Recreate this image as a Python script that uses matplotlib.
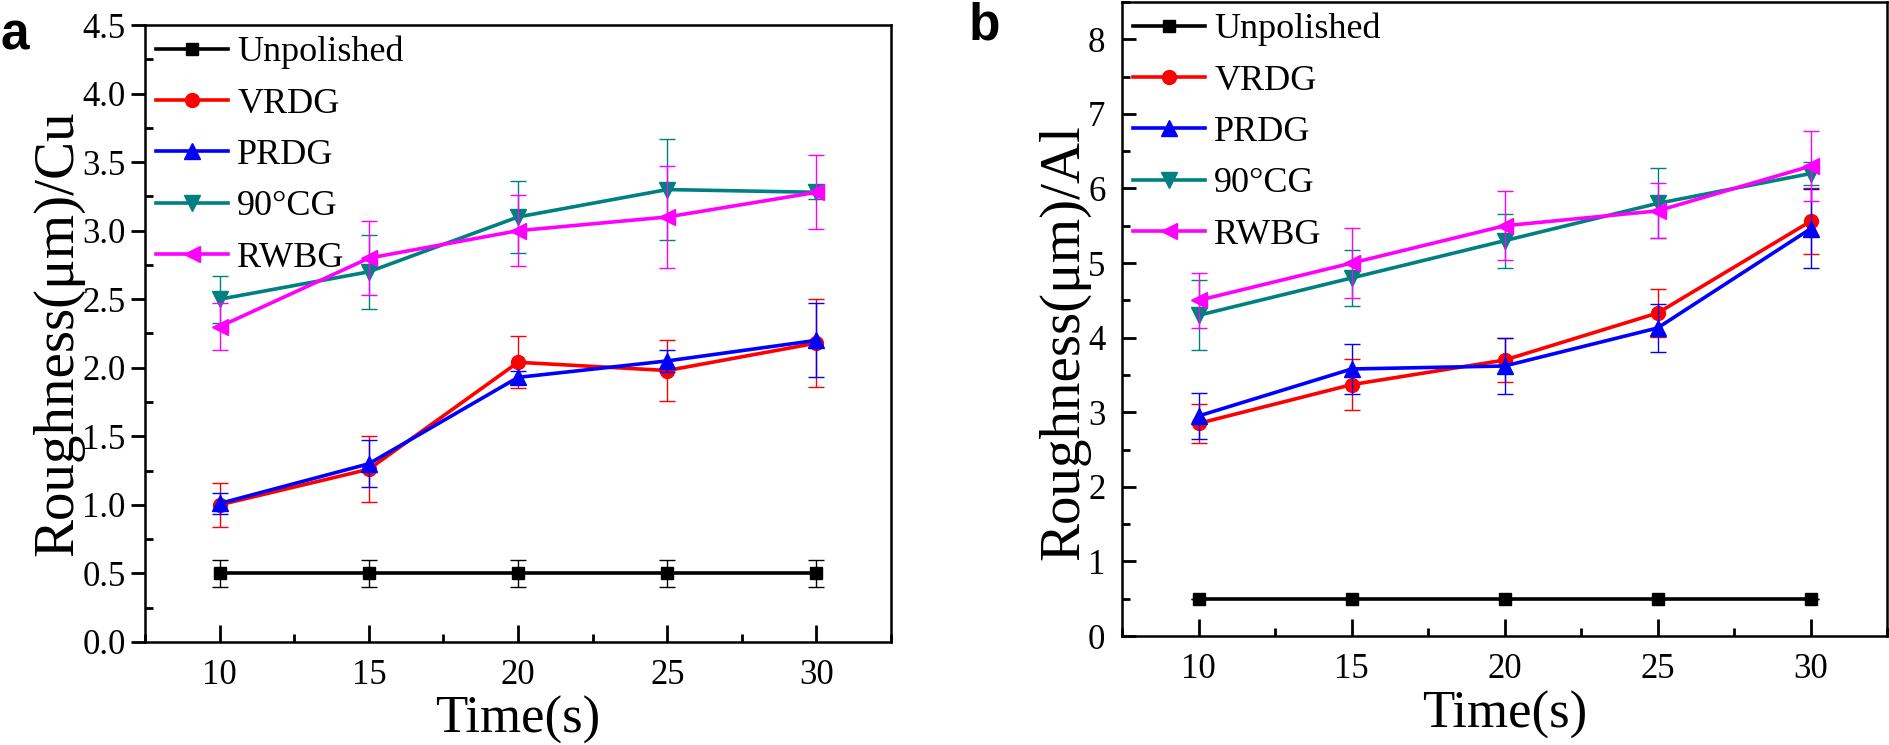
"""
Surface roughness vs. polishing time for Cu and Al workpieces (panels a, b).
"""

import matplotlib
matplotlib.use("Agg")
import matplotlib.pyplot as plt
from matplotlib.ticker import MultipleLocator

plt.rcParams["font.family"] = "serif"
plt.rcParams["font.serif"] = ["Liberation Serif", "DejaVu Serif"]

# --- data ---------------------------------------------------------------------

TIMES = [10, 15, 20, 25, 30]
LABELS = ["Unpolished", "VRDG", "PRDG", "90°CG", "RWBG"]

# Cu (panel a)
CU_UNPOL = [0.5, 0.5, 0.5, 0.5, 0.5]
CU_VRDG = [1.00, 1.26, 2.04, 1.98, 2.18]
CU_PRDG = [1.01, 1.30, 1.93, 2.05, 2.20]
CU_CG90 = [2.50, 2.70, 3.10, 3.30, 3.28]
CU_RWBG = [2.30, 2.80, 3.00, 3.10, 3.28]

CU_UNPOL_ERR = [0.10, 0.10, 0.10, 0.10, 0.10]
CU_VRDG_ERR = [0.16, 0.24, 0.19, 0.22, 0.32]
CU_PRDG_ERR = [0.075, 0.17, 0.05, 0.08, 0.27]
CU_CG90_ERR = [0.17, 0.27, 0.26, 0.37, 0.05]
CU_RWBG_ERR = [0.17, 0.27, 0.26, 0.37, 0.27]

# Al (panel b)
AL_UNPOL = [0.5, 0.5, 0.5, 0.5, 0.5]
AL_VRDG = [2.85, 3.37, 3.70, 4.33, 5.56]
AL_PRDG = [2.95, 3.58, 3.62, 4.13, 5.46]
AL_CG90 = [4.30, 4.80, 5.30, 5.80, 6.20]
AL_RWBG = [4.50, 5.00, 5.50, 5.70, 6.30]

AL_UNPOL_ERR = [0.0, 0.0, 0.0, 0.0, 0.0]
AL_VRDG_ERR = [0.26, 0.34, 0.30, 0.32, 0.44]
AL_PRDG_ERR = [0.31, 0.34, 0.38, 0.32, 0.53]
AL_CG90_ERR = [0.47, 0.37, 0.36, 0.47, 0.15]
AL_RWBG_ERR = [0.37, 0.47, 0.46, 0.37, 0.47]

# axis ticks
X_TICKS = [10, 15, 20, 25, 30]
CU_Y_TICKS = [0.0, 0.5, 1.0, 1.5, 2.0, 2.5, 3.0, 3.5, 4.0, 4.5]
AL_Y_TICKS = [0, 1, 2, 3, 4, 5, 6, 7, 8]

COLORS = ["#000000", "#FF0000", "#0000FF", "#008080", "#FF00FF"]
MARKERS = ["s", "o", "^", "v", "<"]
MSIZES = [9, 10, 11, 11, 11]
TICK_FONT = "Liberation Serif"


def draw_panel(ax, means, errs, ylim, yticks, yminor, ylabel, ytick_dir, yfmt):
    for i, (m, e) in enumerate(zip(means, errs)):
        ax.errorbar(TIMES, m, yerr=e, fmt="none", ecolor=COLORS[i],
                    elinewidth=1.0, capsize=6, capthick=1.0, zorder=2 + i)
        ax.plot(TIMES, m, "-", color=COLORS[i], marker=MARKERS[i],
                markersize=MSIZES[i], linewidth=2.6, label=LABELS[i],
                zorder=2 + i)

    ax.set_xlim(7.5, 32.5)
    ax.set_ylim(*ylim)
    ax.set_xticks(X_TICKS)
    ax.set_xticklabels([str(t) for t in X_TICKS], fontfamily=TICK_FONT,
                       fontsize=25)
    ax.set_yticks(yticks)
    ax.set_yticklabels([yfmt.format(t) for t in yticks], fontfamily=TICK_FONT,
                       fontsize=25)
    ax.xaxis.set_minor_locator(MultipleLocator(2.5))
    ax.yaxis.set_minor_locator(MultipleLocator(yminor))

    ax.tick_params(axis="x", which="major", direction="in", length=12,
                   width=2, pad=12, top=False)
    ax.tick_params(axis="x", which="minor", direction="in", length=6,
                   width=2, top=False)
    ax.tick_params(axis="y", which="major", direction=ytick_dir, length=10,
                   width=2, pad=4, right=False)
    ax.tick_params(axis="y", which="minor", direction="in", length=6,
                   width=2, right=False)
    for sp in ax.spines.values():
        sp.set_linewidth(1.8)

    ax.set_xlabel("Time(s)", fontsize=38)
    ax.set_ylabel(ylabel, fontsize=41)

    ax.legend(loc="upper left", frameon=False, fontsize=26, handlelength=2.0,
              handletextpad=0.25, labelspacing=0.5, borderaxespad=0.1,
              borderpad=0.2)


fig = plt.figure(figsize=(18.89, 7.45), dpi=100)
ax_a = fig.add_axes([0.0768, 0.1383, 0.3949, 0.8281])
ax_b = fig.add_axes([0.5940, 0.1463, 0.4050, 0.8510])

draw_panel(
    ax_a,
    [CU_UNPOL, CU_VRDG, CU_PRDG, CU_CG90, CU_RWBG],
    [CU_UNPOL_ERR, CU_VRDG_ERR, CU_PRDG_ERR, CU_CG90_ERR, CU_RWBG_ERR],
    (0, 4.5), CU_Y_TICKS, 0.25, "Roughness(μm)/Cu", "out", "{:.1f}",
)
draw_panel(
    ax_b,
    [AL_UNPOL, AL_VRDG, AL_PRDG, AL_CG90, AL_RWBG],
    [AL_UNPOL_ERR, AL_VRDG_ERR, AL_PRDG_ERR, AL_CG90_ERR, AL_RWBG_ERR],
    (0, 8.5), AL_Y_TICKS, 0.5, "Roughness(μm)/Al", "in", "{:.0f}",
)
ax_b.tick_params(axis="y", which="major", pad=12)

ax_a.yaxis.set_label_coords(-0.082, 0.5)
ax_b.yaxis.set_label_coords(-0.042, 0.464)
ax_a.xaxis.set_label_coords(0.5, -0.088)
ax_b.xaxis.set_label_coords(0.5, -0.087)

fig.text(0.0, 0.985, "a", fontsize=37, fontweight="bold",
         family="Liberation Sans", va="top", ha="left")
fig.text(0.513, 0.998, "b", fontsize=37, fontweight="bold",
         family="Liberation Sans", va="top", ha="left")

fig.savefig("out.png", dpi=100, facecolor="white")
